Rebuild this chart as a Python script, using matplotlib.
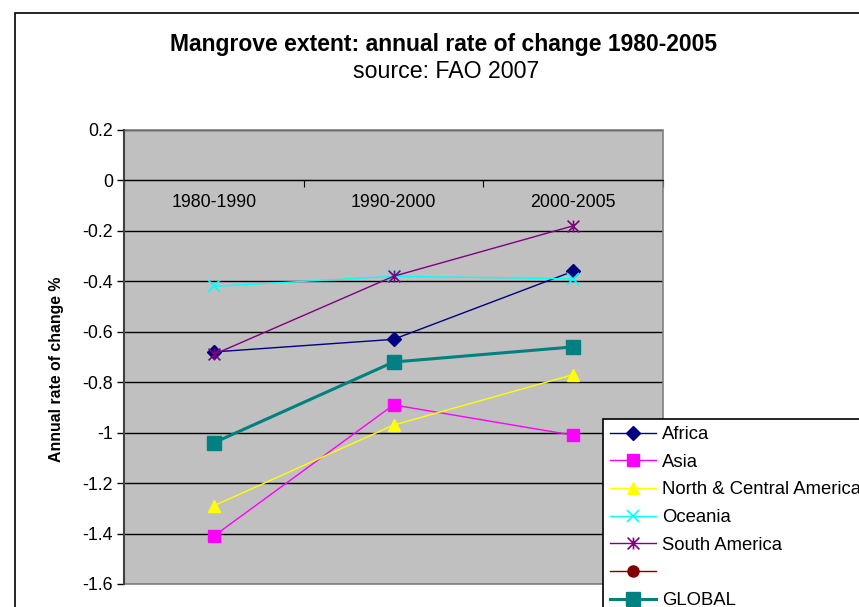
import numpy as np
import matplotlib as mpl
mpl.use('Agg')
import matplotlib.pyplot as plt
from matplotlib.path import Path
from matplotlib.patches import Rectangle
from matplotlib.ticker import MultipleLocator, FuncFormatter

plt.rcParams['font.family'] = ['Liberation Sans', 'DejaVu Sans']

# data
periods = ['1980-1990', '1990-2000', '2000-2005']
africa = [-0.68, -0.63, -0.36]
asia = [-1.41, -0.89, -1.01]
north_central_america = [-1.29, -0.97, -0.77]
oceania = [-0.42, -0.38, -0.39]
south_america = [-0.69, -0.38, -0.18]
unnamed = [np.nan, np.nan, np.nan]
global_rate = [-1.04, -0.72, -0.66]

# excel style "star" marker: an x with a vertical bar
star = Path([(-1, -1), (1, 1), (-1, 1), (1, -1), (0, -1), (0, 1)],
            [Path.MOVETO, Path.LINETO, Path.MOVETO, Path.LINETO,
             Path.MOVETO, Path.LINETO])

series = [
    ('Africa', africa, '#000080', 'D', 6.8, 1.0),
    ('Asia', asia, '#FF00FF', 's', 8, 1.0),
    ('North & Central America', north_central_america, '#FFFF00', '^', 9, 1.0),
    ('Oceania', oceania, '#00FFFF', 'x', 9, 1.0),
    ('South America', south_america, '#800080', star, 8.5, 1.0),
    ('', unnamed, '#800000', 'o', 8, 1.0),
    ('GLOBAL', global_rate, '#008080', 's', 9.5, 2.2),
]

fig = plt.figure(figsize=(8.59, 6.07), dpi=100)
ax = fig.add_axes([124 / 859, 1 - 584 / 607, 539 / 859, 454 / 607])
ax.set_facecolor('#C0C0C0')

x = np.arange(len(periods))
handles, labels = [], []
for name, vals, col, mk, ms, lw in series:
    mew = 1.2 if mk in ('x',) or mk is star else 1.0
    h, = ax.plot(x, vals, color=col, lw=lw, marker=mk, markersize=ms,
                 markerfacecolor=col, markeredgecolor=col, markeredgewidth=mew,
                 zorder=3)
    handles.append(h)
    labels.append(name)

# axes
ax.set_xlim(-0.5, 2.5)
ax.set_ylim(-1.6, 0.2)
ax.yaxis.set_major_locator(MultipleLocator(0.2))
ax.yaxis.set_major_formatter(FuncFormatter(lambda v, p: '%g' % round(v, 1)))
ax.yaxis.grid(True, color='black', lw=1)
ax.set_axisbelow(True)
ax.tick_params(axis='y', direction='out', length=5, width=1, labelsize=12.8,
               colors='black', pad=3)

ax.set_xticks([-0.5, 0.5, 1.5, 2.5])
ax.set_xticks(x, minor=True)
ax.set_xticklabels(periods, minor=True)
ax.tick_params(axis='x', which='major', direction='out', length=5,
               labelbottom=False)
ax.tick_params(axis='x', which='minor', length=0, pad=10, labelsize=12.8)

ax.spines['top'].set_visible(False)
ax.spines['right'].set_visible(False)
ax.spines['bottom'].set_position(('data', 0))
ax.spines['bottom'].set_color('black')
ax.spines['left'].set_color('#404040')
ax.spines['left'].set_linewidth(1.5)
ax.add_patch(Rectangle((0, 0), 1, 1, transform=ax.transAxes, fill=False,
                       edgecolor='#808080', lw=1.2, clip_on=False, zorder=1))

# titles and labels
fig.text(444 / 859, 1 - 44 / 607, 'Mangrove extent: annual rate of change 1980-2005',
         ha='center', va='center', fontsize=16.5, fontweight='bold')
fig.text(446 / 859, 1 - 71 / 607, 'source: FAO 2007',
         ha='center', va='center', fontsize=16.7)
fig.text(57 / 859, 1 - 369 / 607, 'Annual rate of change %', rotation=90,
         ha='center', va='center', fontsize=11.4, fontweight='bold')

# outer chart frame (runs off the picture on right and bottom)
fig.patches.append(Rectangle((15 / 859, -0.5), 2, 0.5 + 1 - 13 / 607,
                             transform=fig.transFigure, fill=False,
                             edgecolor='black', lw=1.2))

leg = fig.legend(handles, labels, loc='upper left',
                 bbox_to_anchor=(603 / 859, 1 - 419 / 607), borderaxespad=0,
                 fontsize=13.3, frameon=True, fancybox=False, framealpha=1,
                 edgecolor='black', handlelength=2.5, handletextpad=0.3,
                 borderpad=0.38, labelspacing=0.58, numpoints=1)
leg.get_frame().set_linewidth(1.2)

fig.savefig('out.png', dpi=100)
